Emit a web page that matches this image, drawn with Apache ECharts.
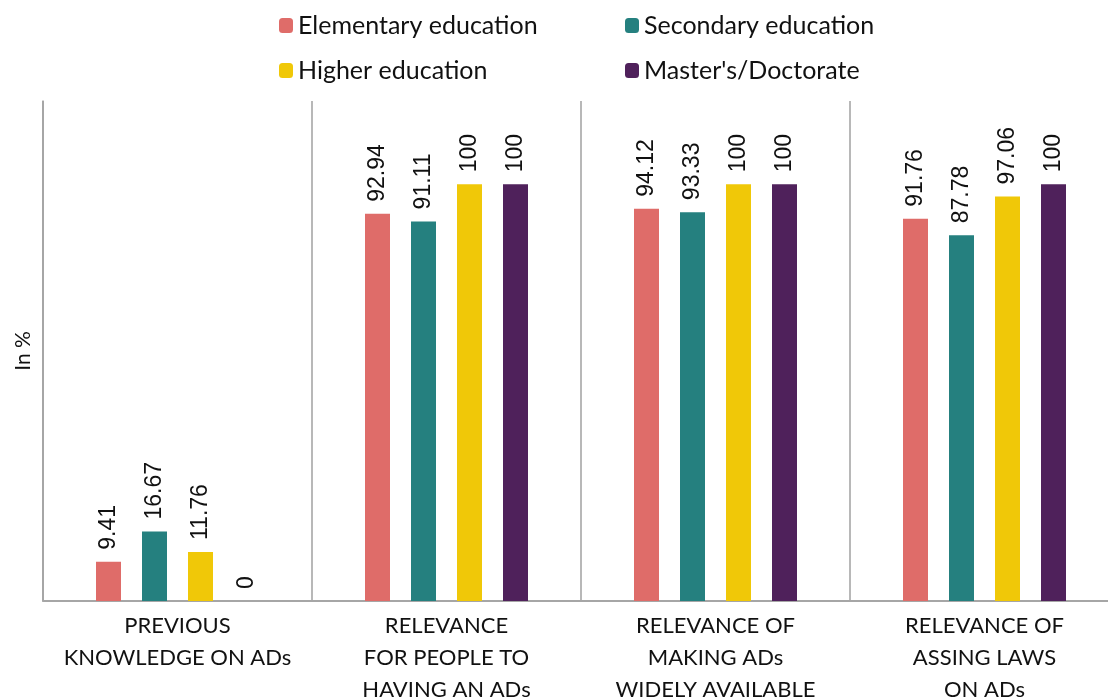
<!DOCTYPE html>
<html>
<head>
<meta charset="utf-8">
<script src="https://cdn.jsdelivr.net/npm/echarts@6/dist/echarts.min.js"></script>
<style>
html,body{margin:0;padding:0;background:#fff;}
#chart{width:1108px;height:697px;}
</style>
</head>
<body>
<div id="chart"></div>
<script>
const categories = [
  "PREVIOUS\nKNOWLEDGE ON ADs",
  "RELEVANCE\nFOR PEOPLE TO\nHAVING AN ADs",
  "RELEVANCE OF\nMAKING ADs\nWIDELY AVAILABLE",
  "RELEVANCE OF\nASSING LAWS\nON ADs"
];
const seriesNames = ["Elementary education", "Secondary education", "Higher education", "Master's/Doctorate"];
const elementary = [9.41, 92.94, 94.12, 91.76];
const secondary = [16.67, 91.11, 93.33, 87.78];
const higher = [11.76, 100, 100, 97.06];
const masters = [0, 100, 100, 100];
const colors = ["#df6c69", "#25807f", "#f0c808", "#4f215b"];

const font = "Lato, 'Open Sans', sans-serif";
const numFont = "'Liberation Sans', Arial, sans-serif";
const allData = [elementary, secondary, higher, masters];

const chart = echarts.init(document.getElementById('chart'), null, {renderer: 'canvas'});
chart.setOption({
  animation: false,
  color: colors,
  textStyle: {fontFamily: font},
  legend: [
    {
      orient: 'vertical', left: 279, top: 13, padding: 0, itemWidth: 14, itemHeight: 15, itemGap: 20,
      data: [seriesNames[0], seriesNames[2]],
      textStyle: {fontFamily: font, fontSize: 25, color: '#111', padding: [0,0,0,0]}
    },
    {
      orient: 'vertical', left: 625, top: 13, padding: 0, itemWidth: 14, itemHeight: 15, itemGap: 20,
      data: [seriesNames[1], seriesNames[3]],
      textStyle: {fontFamily: font, fontSize: 25, color: '#111', padding: [0,0,0,0]}
    }
  ],
  grid: {left: 43, width: 1076, top: 101, bottom: 96, containLabel: false, outerBoundsMode: 'none'},
  xAxis: {
    type: 'category',
    data: categories,
    axisTick: {show: false},
    axisLine: {lineStyle: {color: '#a6a6a6', width: 2}},
    splitLine: {show: true, interval: 0, lineStyle: {color: '#a0a0a0', width: 1.5}},
    axisLabel: {interval: 0, fontFamily: font, fontSize: 22, color: '#111', lineHeight: 32, margin: 9}
  },
  yAxis: {
    type: 'value', min: 0, max: 120,
    name: 'In %', nameLocation: 'middle', nameGap: 9, nameRotate: 90,
    nameTextStyle: {fontFamily: font, fontSize: 21, color: '#111'},
    axisLabel: {show: false},
    axisTick: {show: false},
    splitLine: {show: false},
    axisLine: {show: true, lineStyle: {color: '#a0a0a0', width: 1.5}}
  },
  series: allData.map((d, i) => ({
    name: seriesNames[i],
    type: 'bar',
    data: d,
    barWidth: 25,
    barGap: '84%',
    label: {
      show: true, position: 'top', rotate: 90, align: 'left', verticalAlign: 'middle',
      distance: 12, fontFamily: numFont, fontSize: 23, color: '#111'
    }
  }))
});
</script>
</body>
</html>
